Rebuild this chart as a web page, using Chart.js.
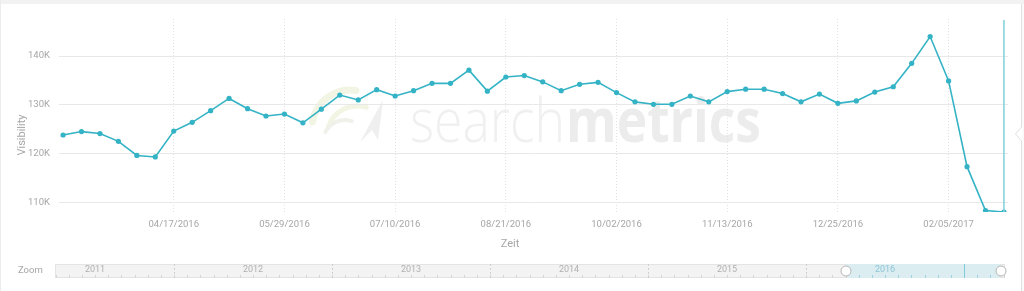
<!DOCTYPE html>
<html lang="de">
<head>
  <meta charset="UTF-8">
  <title>Visibility</title>
  <script src="https://cdn.jsdelivr.net/npm/chart.js"></script>
  <style>
    body { margin: 0; background: #fff; font-family: Roboto, Arial, sans-serif; }
    #wrap { position: relative; width: 1024px; height: 291px; }
  </style>
</head>
<body>
  <div id="wrap"><canvas id="grafico" width="1024" height="291"></canvas></div>

  <script>
    // Wochen (Sonntage)
    const weeks = [
      '03/06/2016', '03/13/2016', '03/20/2016', '03/27/2016', '04/03/2016', '04/10/2016',
      '04/17/2016', '04/24/2016', '05/01/2016', '05/08/2016', '05/15/2016', '05/22/2016',
      '05/29/2016', '06/05/2016', '06/12/2016', '06/19/2016', '06/26/2016', '07/03/2016',
      '07/10/2016', '07/17/2016', '07/24/2016', '07/31/2016', '08/07/2016', '08/14/2016',
      '08/21/2016', '08/28/2016', '09/04/2016', '09/11/2016', '09/18/2016', '09/25/2016',
      '10/02/2016', '10/09/2016', '10/16/2016', '10/23/2016', '10/30/2016', '11/06/2016',
      '11/13/2016', '11/20/2016', '11/27/2016', '12/04/2016', '12/11/2016', '12/18/2016',
      '12/25/2016', '01/01/2017', '01/08/2017', '01/15/2017', '01/22/2017', '01/29/2017',
      '02/05/2017', '02/12/2017', '02/19/2017', '02/26/2017'
    ];

    // Sichtbarkeitswerte
    const visibility = [
      123800, 124500, 124100, 122500, 119600, 119300, 124600, 126400, 128800, 131300,
      129200, 127700, 128100, 126300, 129100, 132000, 131000, 133100, 131800, 132900,
      134400, 134400, 137100, 132800, 135700, 136000, 134700, 132900, 134200, 134600,
      132500, 130600, 130100, 130100, 131800, 130600, 132700, 133200, 133200, 132300,
      130600, 132200, 130300, 130800, 132600, 133700, 138500, 144000, 134900, 117300,
      108300, 108000
    ];

    const xTickLabels = ['04/17/2016', '05/29/2016', '07/10/2016', '08/21/2016',
                         '10/02/2016', '11/13/2016', '12/25/2016', '02/05/2017'];
    const yTicks = [110000, 120000, 130000, 140000];
    const navYears = ['2011', '2012', '2013', '2014', '2015', '2016'];

    const lineColor = '#33b3c5';
    const textColor = '#a6a6a6';

    // Rahmen, Wasserzeichen, Achsentitel
    const decor = {
      id: 'decor',
      beforeDraw(chart) {
        const ctx = chart.ctx;
        ctx.save();
        ctx.fillStyle = '#fff';
        ctx.fillRect(0, 0, 1024, 291);
        ctx.fillStyle = '#f2f2f2';
        ctx.fillRect(0, 0, 1024, 4);
        ctx.fillStyle = '#ececec';
        ctx.fillRect(0, 0, 1, 291);
        ctx.fillStyle = '#fafafa';
        ctx.fillRect(1022, 4, 2, 287);
        ctx.strokeStyle = '#e0e0e0';
        ctx.lineWidth = 1;
        ctx.beginPath();
        ctx.moveTo(1021.5, 4); ctx.lineTo(1021.5, 127);
        ctx.lineTo(1015.5, 134); ctx.lineTo(1021.5, 141);
        ctx.lineTo(1021.5, 291);
        ctx.stroke();

        // Logo
        ctx.lineCap = 'round';
        ctx.strokeStyle = '#f3f5e4';
        ctx.lineWidth = 7;
        ctx.beginPath();
        ctx.arc(350, 128, 38, Math.PI * 1.05, Math.PI * 1.55);
        ctx.stroke();
        ctx.lineWidth = 5;
        ctx.beginPath();
        ctx.arc(357, 136, 30, Math.PI * 1.1, Math.PI * 1.6);
        ctx.stroke();
        ctx.strokeStyle = '#f1f1ec';
        ctx.lineWidth = 4;
        ctx.beginPath();
        ctx.arc(345, 142, 22, Math.PI * 1.15, Math.PI * 1.6);
        ctx.stroke();
        ctx.fillStyle = '#efefef';
        ctx.beginPath();
        ctx.moveTo(383, 100); ctx.lineTo(360, 142); ctx.lineTo(372, 130);
        ctx.lineTo(378, 140); ctx.closePath();
        ctx.fill();

        // Schriftzug
        ctx.textBaseline = 'alphabetic';
        ctx.textAlign = 'left';
        ctx.font = '300 60px "Open Sans"';
        let w = ctx.measureText('search').width;
        ctx.save();
        ctx.translate(410, 142);
        ctx.scale(155 / w, 1);
        ctx.fillStyle = '#f0f0f0';
        ctx.fillText('search', 0, 0);
        ctx.restore();
        ctx.font = 'bold 60px "Open Sans"';
        w = ctx.measureText('metrics').width;
        ctx.save();
        ctx.translate(566, 142);
        ctx.scale(195 / w, 1);
        ctx.fillStyle = '#ececec';
        ctx.fillText('metrics', 0, 0);
        ctx.restore();
        ctx.restore();
      },
      afterDatasetsDraw(chart) {
        const ctx = chart.ctx;
        const x = chart.scales.x.getPixelForValue(visibility.length - 1);
        ctx.save();
        ctx.strokeStyle = '#7fd0dc';
        ctx.lineWidth = 1.5;
        ctx.beginPath();
        ctx.moveTo(x, 20); ctx.lineTo(x, chart.chartArea.bottom);
        ctx.stroke();
        ctx.restore();
      },
      afterDraw(chart) {
        const ctx = chart.ctx;
        ctx.save();
        ctx.fillStyle = textColor;
        ctx.font = '11px Roboto';
        ctx.textAlign = 'center';
        ctx.textBaseline = 'middle';
        ctx.fillText('Zeit', 510, 244);
        ctx.save();
        ctx.translate(22, 135);
        ctx.rotate(-Math.PI / 2);
        ctx.fillText('Visibility', 0, 0);
        ctx.restore();

        // Navigator
        const left = 55, right = 1005, top = 264, bottom = 278;
        const yearW = 158, year0 = 16;
        ctx.fillStyle = '#f3f3f3';
        ctx.fillRect(left, top, right - left, bottom - top);
        ctx.strokeStyle = '#e4e4e4';
        ctx.lineWidth = 1;
        ctx.strokeRect(left + 0.5, top + 0.5, right - left - 1, bottom - top - 1);
        const selL = 846, selR = 1001;
        ctx.fillStyle = '#dcedf2';
        ctx.fillRect(selL, top, selR - selL, bottom - top);
        // Monatsstriche
        for (let m = 0; m < 12 * 7; m++) {
          const x = year0 + m * yearW / 12;
          if (x <= left || x >= right) continue;
          ctx.strokeStyle = (x > selL && x < selR) ? '#9fd3de' : '#d6d6d6';
          ctx.beginPath();
          ctx.moveTo(Math.round(x) + 0.5, bottom - 3);
          ctx.lineTo(Math.round(x) + 0.5, bottom);
          ctx.stroke();
        }
        ctx.font = '9px Roboto';
        ctx.textBaseline = 'middle';
        navYears.forEach((y, i) => {
          const x0 = year0 + i * yearW;
          if (i > 0) {
            ctx.strokeStyle = '#cfcfcf';
            ctx.setLineDash([2, 2]);
            ctx.beginPath();
            ctx.moveTo(Math.round(x0) + 0.5, top);
            ctx.lineTo(Math.round(x0) + 0.5, bottom);
            ctx.stroke();
            ctx.setLineDash([]);
          }
          ctx.fillStyle = (y === '2016') ? '#8cc6d4' : '#b0b0b0';
          ctx.fillText(y, x0 + 79, 270);
        });
        ctx.strokeStyle = '#7fcbd8';
        ctx.beginPath();
        ctx.moveTo(year0 + 6 * yearW + 0.5, top);
        ctx.lineTo(year0 + 6 * yearW + 0.5, bottom);
        ctx.stroke();
        [selL, selR].forEach(x => {
          ctx.fillStyle = '#fff';
          ctx.strokeStyle = '#b5b5b5';
          ctx.beginPath();
          ctx.arc(x, 271, 5, 0, Math.PI * 2);
          ctx.fill();
          ctx.stroke();
        });
        ctx.fillStyle = textColor;
        ctx.font = '9.5px Roboto';
        ctx.textAlign = 'left';
        ctx.fillText('Zoom', 18, 271);
        ctx.restore();
      }
    };

    const ctx = document.getElementById('grafico').getContext('2d');
    new Chart(ctx, {
      type: 'line',
      data: {
        datasets: [{
          label: 'Visibility',
          data: visibility.map((v, i) => ({ x: i, y: v })),
          borderColor: lineColor,
          backgroundColor: lineColor,
          borderWidth: 1.6,
          pointRadius: 2.6,
          pointBorderWidth: 0,
          tension: 0
        }]
      },
      options: {
        responsive: false,
        animation: false,
        layout: { padding: { top: 19, right: 16, left: 0, bottom: 0 } },
        plugins: { legend: { display: false }, tooltip: { enabled: false } },
        scales: {
          x: {
            type: 'linear',
            min: -0.22,
            max: 51.22,
            afterBuildTicks: s => {
              s.ticks = xTickLabels.map(l => ({ value: weeks.indexOf(l) }));
            },
            afterFit: s => { s.height = 79; },
            ticks: {
              callback: v => weeks[v],
              color: textColor,
              font: { family: 'Roboto', size: 9.5 },
              padding: 7,
              maxRotation: 0,
              autoSkip: false
            },
            grid: { color: '#e2e2e2', drawTicks: false },
            border: { display: false, dash: [1, 2] }
          },
          y: {
            min: 108000,
            max: 147600,
            afterBuildTicks: s => {
              s.ticks = yTicks.map(v => ({ value: v }));
            },
            afterFit: s => { s.width = 59; },
            ticks: {
              callback: v => (v / 1000) + 'K',
              color: textColor,
              font: { family: 'Roboto', size: 9.5 },
              padding: 9
            },
            grid: { color: '#e8e8e8', drawTicks: false },
            border: { display: false }
          }
        }
      },
      plugins: [decor]
    });
  </script>
</body>
</html>
